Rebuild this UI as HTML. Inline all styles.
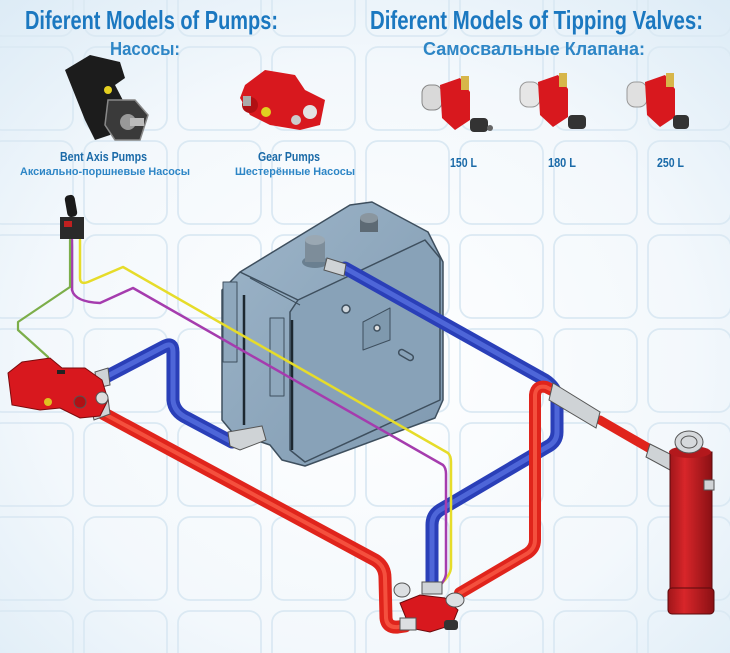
<!DOCTYPE html>
<html><head><meta charset="utf-8"><style>
html,body{margin:0;padding:0;width:730px;height:653px;overflow:hidden;background:#eef5fb}
svg{display:block}
</style></head><body>
<svg width="730" height="653" viewBox="0 0 730 653" xmlns="http://www.w3.org/2000/svg">
<defs>
<radialGradient id="bg" cx="0.5" cy="0.55" r="0.75">
<stop offset="0" stop-color="#ffffff"/><stop offset="0.6" stop-color="#f3f8fc"/><stop offset="1" stop-color="#dcebf6"/>
</radialGradient>
<linearGradient id="cyl" x1="0" x2="1"><stop offset="0" stop-color="#a0161a"/><stop offset="0.35" stop-color="#d8262a"/><stop offset="1" stop-color="#8a1014"/></linearGradient>
<linearGradient id="tank" x1="0" x2="1" y1="0" y2="1"><stop offset="0" stop-color="#9db5c9"/><stop offset="1" stop-color="#7f99b0"/></linearGradient>
<pattern id="grid" x="-12" y="45" width="94" height="94" patternUnits="userSpaceOnUse">
<rect x="2" y="2" width="83" height="83" rx="12" fill="none" stroke="#dbe9f3" stroke-width="1.8"/>
</pattern>
</defs>
<rect width="730" height="653" fill="url(#bg)"/>
<rect width="730" height="653" fill="url(#grid)"/>

<!-- Titles -->
<g font-family="'Liberation Sans Narrow','Liberation Sans',sans-serif" font-weight="bold" fill="#1b78c0">
<text x="25" y="29" font-size="26" textLength="253" lengthAdjust="spacingAndGlyphs">Diferent Models of Pumps:</text>
<text x="370" y="29" font-size="26" textLength="333" lengthAdjust="spacingAndGlyphs">Diferent Models of Tipping Valves:</text>
</g>
<g font-family="'Liberation Sans','Noto Sans CJK SC',sans-serif" font-weight="bold" fill="#2e86c6">
<text x="110" y="55" font-size="18" textLength="70" lengthAdjust="spacingAndGlyphs">Насосы:</text>
<text x="423" y="55" font-size="18" textLength="222" lengthAdjust="spacingAndGlyphs">Самосвальные Клапана:</text>
</g>
<g font-family="'Liberation Sans Narrow','Liberation Sans',sans-serif" font-weight="bold" fill="#1a6aa8">
<text x="60" y="161" font-size="13" textLength="87" lengthAdjust="spacingAndGlyphs">Bent Axis Pumps</text>
<text x="20" y="175" font-size="11" fill="#2e86c6" textLength="170" lengthAdjust="spacingAndGlyphs">Аксиально-поршневые Насосы</text>
<text x="258" y="161" font-size="13" textLength="62" lengthAdjust="spacingAndGlyphs">Gear Pumps</text>
<text x="235" y="175" font-size="11" fill="#2e86c6" textLength="120" lengthAdjust="spacingAndGlyphs">Шестерённые Насосы</text>
<text x="450" y="167" font-size="13" textLength="27" lengthAdjust="spacingAndGlyphs">150 L</text>
<text x="548" y="167" font-size="13" textLength="28" lengthAdjust="spacingAndGlyphs">180 L</text>
<text x="657" y="167" font-size="13" textLength="27" lengthAdjust="spacingAndGlyphs">250 L</text>
</g>

<!-- Bent axis pump -->
<g>
<polygon points="65,70 90,55 120,62 125,78 115,85 128,110 110,135 95,140 85,120" fill="#1c1c1c"/>
<polygon points="108,100 135,100 148,115 140,140 115,140 105,125" fill="#3a3a3a" stroke="#888" stroke-width="1.5"/>
<circle cx="128" cy="122" r="8" fill="#999"/><rect x="130" y="118" width="14" height="8" fill="#bbb"/>
<circle cx="108" cy="90" r="4" fill="#e5d020"/>
</g>
<!-- Gear pump -->
<g>
<polygon points="245,85 265,70 295,75 305,90 325,100 320,125 300,130 270,125 250,115 240,98" fill="#d8181e"/>
<circle cx="250" cy="105" r="8" fill="#b01014"/>
<circle cx="266" cy="112" r="5" fill="#e0d020"/>
<circle cx="310" cy="112" r="7" fill="#e3e3e3"/><circle cx="296" cy="120" r="5" fill="#ccc"/>
<rect x="243" y="96" width="8" height="10" fill="#aaa"/>
</g>
<!-- Valves -->
<g>
<g>
<rect x="422" y="85" width="20" height="25" rx="8" fill="#d9d9d9" stroke="#888"/>
<polygon points="440,85 460,78 470,92 470,120 455,130 442,118" fill="#d8181e"/>
<rect x="461" y="76" width="8" height="14" fill="#d7b64a"/>
<rect x="470" y="118" width="18" height="14" rx="4" fill="#333"/>
<circle cx="490" cy="128" r="3" fill="#666"/>
</g>
<g transform="translate(98,-3)">
<rect x="422" y="85" width="20" height="25" rx="8" fill="#e6e6e6" stroke="#999"/>
<polygon points="440,85 460,78 470,92 470,120 455,130 442,118" fill="#d8181e"/>
<rect x="461" y="76" width="8" height="14" fill="#d7b64a"/>
<rect x="470" y="118" width="18" height="14" rx="4" fill="#333"/>
</g>
<g transform="translate(205,-3)">
<rect x="422" y="85" width="20" height="25" rx="8" fill="#e0e0e0" stroke="#999"/>
<polygon points="440,85 460,78 470,92 470,120 455,130 442,118" fill="#d8181e"/>
<rect x="461" y="76" width="8" height="14" fill="#d7b64a"/>
<rect x="468" y="118" width="16" height="14" rx="4" fill="#333"/>
</g>
</g>

<!-- Tank -->
<g stroke="#3e4f5e" stroke-width="1.5" stroke-linejoin="round">
<polygon points="222,290 240,272 350,205 372,202 428,232 443,262 443,400 435,418 305,466 282,460 270,445 232,432 222,420" fill="url(#tank)"/>
<polygon points="298,300 425,240 440,258 440,400 305,462 290,450 290,312" fill="#88a2b8"/>
<polyline points="240,272 298,300" fill="none"/>
<polyline points="250,278 300,305" fill="none" stroke-width="1"/>
<line x1="244" y1="295" x2="244" y2="425" stroke="#1d2830" stroke-width="2.5"/>
<line x1="292" y1="320" x2="292" y2="450" stroke="#1d2830" stroke-width="2.5"/>
<rect x="223" y="282" width="14" height="80" fill="#8ea7bc" stroke-width="1"/>
<rect x="270" y="318" width="14" height="78" fill="#8ea7bc" stroke-width="1"/>
<polygon points="363,322 390,308 390,340 363,350" fill="#7f99ae" stroke-width="1"/>
<circle cx="377" cy="328" r="3" fill="#ddd"/>
<circle cx="346" cy="309" r="4" fill="#cfd6dc"/>
<rect x="398" y="352" width="16" height="6" rx="3" transform="rotate(30 406 355)" fill="none"/>
</g>
<g>
<ellipse cx="315" cy="262" rx="13" ry="6" fill="#6a7f90"/>
<rect x="305" y="240" width="20" height="22" fill="#7d8d9a"/>
<ellipse cx="315" cy="240" rx="10" ry="5" fill="#9aa8b3"/>
<rect x="360" y="218" width="18" height="14" fill="#5d6a74"/>
<ellipse cx="369" cy="218" rx="9" ry="5" fill="#8a969f"/>
</g>

<!-- Hydraulic pipes -->
<g fill="none" stroke-linecap="round" stroke-linejoin="round">
<path d="M100,380 L165,346 Q173,342 173,352 L173,400 Q174,412 187,418 L232,442" stroke="#2a3fb8" stroke-width="13"/>
<path d="M100,380 L165,346 Q173,342 173,352 L173,400 Q174,412 187,418 L232,442" stroke="#4e66d8" stroke-width="5"/>
<path d="M345,268 L545,380 Q557,388 557,400 L557,432 Q557,442 547,447 L440,510 Q432,515 432,525 L432,585" stroke="#2a3fb8" stroke-width="13"/>
<path d="M345,268 L545,380 Q557,388 557,400 L557,432 Q557,442 547,447 L440,510 Q432,515 432,525 L432,585" stroke="#4e66d8" stroke-width="5"/>
<path d="M97,410 L375,560 Q385,566 385,578 L386,618 Q387,628 398,627 L405,626" stroke="#e0241c" stroke-width="13"/>
<path d="M97,410 L375,560 Q385,566 385,578 L386,618 Q387,628 398,627 L405,626" stroke="#f4503e" stroke-width="4"/>
<path d="M460,593 L528,553 Q535,548 535,540 L535,395 Q536,385 546,387 L556,392" stroke="#e0241c" stroke-width="12"/>
<path d="M460,593 L528,553 Q535,548 535,540 L535,395 Q536,385 546,387 L556,392" stroke="#f4503e" stroke-width="4"/>
<path d="M600,420 L652,450" stroke="#e0241c" stroke-width="9"/>
<path d="M80,240 L80,278 Q80,285 88,282 L123,267 L448,453 Q451,456 451,462 L451,567 Q451,575 440,585" stroke="#e6dc2a" stroke-width="2.5"/>
<path d="M72,240 L72,290 Q75,302 100,303 L133,288 L443,465 Q446,468 446,474 L446,573 Q446,580 436,590" stroke="#a53cae" stroke-width="2.5"/>
<path d="M70,240 L70,287 L18,322 L18,330 L48,357 L48,393" stroke="#7cae4a" stroke-width="2.2"/>
</g>
<!-- fittings -->
<g fill="#cfd3d6" stroke="#555" stroke-width="1">
<polygon points="553,383 600,412 596,428 549,400"/>
<polygon points="650,444 674,456 670,470 646,457"/>
<polygon points="327,258 346,264 344,276 324,270"/>
<polygon points="228,432 262,426 266,440 240,450 230,446"/>
<polygon points="90,402 108,398 110,414 94,420"/>
<polygon points="95,372 108,368 110,385 97,388"/>
</g>
<!-- control lever -->
<g>
<rect x="66" y="195" width="10" height="22" rx="4" fill="#1a1a1a" transform="rotate(-10 71 206)"/>
<rect x="60" y="217" width="24" height="22" fill="#2a2a2a"/>
<rect x="64" y="221" width="8" height="6" fill="#c02020"/>
</g>
<!-- pump on left -->
<g>
<polygon points="8,373 22,362 50,358 62,368 85,368 102,380 108,400 100,416 80,418 60,408 40,410 12,405" fill="#d8181e" stroke="#7a0a0c" stroke-width="1"/>
<circle cx="80" cy="402" r="6" fill="#b01014" stroke="#555"/>
<circle cx="102" cy="398" r="6" fill="#ddd" stroke="#555"/>
<circle cx="48" cy="402" r="4" fill="#e0c020"/>
<rect x="57" y="370" width="8" height="4" fill="#222"/>
</g>
<!-- bottom valve -->
<g>
<polygon points="400,603 420,595 445,598 458,610 452,625 430,632 410,628" fill="#d8181e" stroke="#6a0a0c" stroke-width="1"/>
<rect x="422" y="582" width="20" height="12" fill="#cfd3d6" stroke="#555"/>
<ellipse cx="455" cy="600" rx="9" ry="7" fill="#dcdfe2" stroke="#555"/>
<ellipse cx="402" cy="590" rx="8" ry="7" fill="#dcdfe2" stroke="#555"/>
<rect x="400" y="618" width="16" height="12" fill="#dcdfe2" stroke="#555"/>
<rect x="444" y="620" width="14" height="10" rx="3" fill="#333"/>
</g>
<!-- cylinder -->
<g>
<rect x="670" y="452" width="42" height="140" fill="url(#cyl)" stroke="#5a0a0c" stroke-width="1"/>
<rect x="668" y="588" width="46" height="26" rx="4" fill="url(#cyl)" stroke="#5a0a0c" stroke-width="1"/>
<ellipse cx="690" cy="452" rx="21" ry="6" fill="#b3181c"/>
<ellipse cx="689" cy="442" rx="14" ry="11" fill="#d6d9dc" stroke="#555"/>
<ellipse cx="689" cy="442" rx="8" ry="6" fill="none" stroke="#555"/>
<rect x="704" y="480" width="10" height="10" fill="#d0d3d6" stroke="#555"/>
</g>
</svg>
</body></html>
